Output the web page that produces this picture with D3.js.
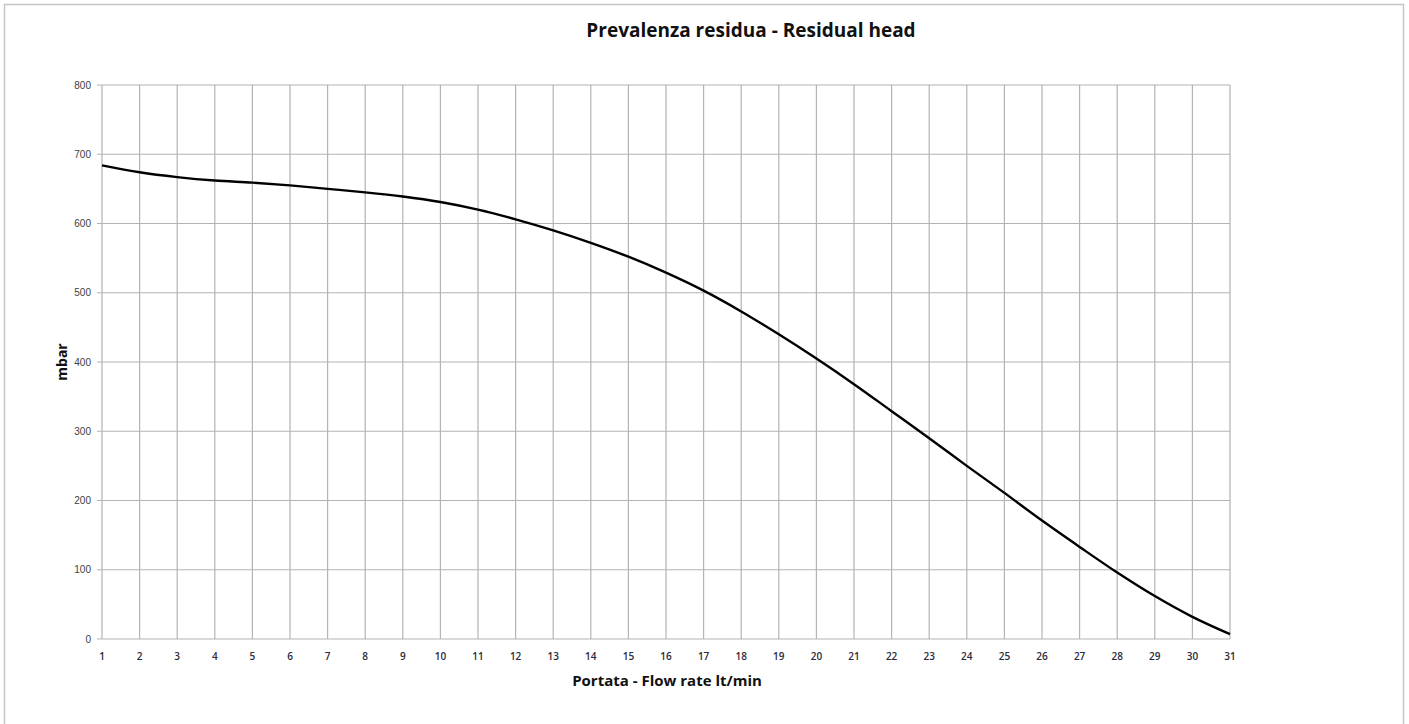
<!DOCTYPE html>
<html><head><meta charset="utf-8">
<script src="https://cdn.jsdelivr.net/npm/d3@7"></script>
<style>html,body{margin:0;padding:0;background:#fff;}svg{display:block;}</style>
</head><body>
<script>
const flowRates = [1,2,3,4,5,6,7,8,9,10,11,12,13,14,15,16,17,18,19,20,21,22,23,24,25,26,27,28,29,30,31];
const residualHead = [684,674,667,662,659,655,650,645,639,631,620,606,590,572,552,529,503,473,440,405,368,329,290,250,211,171,133,96,62,32,7];
const yTicks = [0,100,200,300,400,500,600,700,800];
const xTicks = flowRates;
const titleText = "Prevalenza residua - Residual head";
const xTitle = "Portata - Flow rate lt/min";
const yTitle = "mbar";

const W = 1409, H = 724;
const svg = d3.select("body").append("svg").attr("width", W).attr("height", H);
svg.append("rect").attr("x",4.5).attr("y",4.5).attr("width",1399).attr("height",740)
  .attr("fill","#fff").attr("stroke","#c6c6c6").attr("stroke-width",1.5);

const x = d3.scaleLinear().domain([1,31]).range([102,1230]);
const y = d3.scaleLinear().domain([0,800]).range([639,85]);
const gridColor = "#b3b3b3";

svg.append("g").selectAll("line").data(xTicks).join("line")
  .attr("x1",d=>x(d)).attr("x2",d=>x(d)).attr("y1",y(800)).attr("y2",y(0))
  .attr("stroke",gridColor).attr("stroke-width",1.2);
svg.append("g").selectAll("line").data(yTicks).join("line")
  .attr("x1",97).attr("x2",x(31)).attr("y1",d=>y(d)).attr("y2",d=>y(d))
  .attr("stroke",gridColor).attr("stroke-width",1.2);

svg.append("g").selectAll("text").data(yTicks).join("text")
  .attr("x",91).attr("y",d=>y(d)+3.5).attr("text-anchor","end")
  .attr("font-family","Liberation Sans, Arial, sans-serif").attr("font-size",10)
  .attr("fill","#404040").text(d=>d);
svg.append("g").selectAll("text").data(xTicks).join("text")
  .attr("x",d=>x(d)).attr("y",660).attr("text-anchor","middle")
  .attr("font-family","Open Sans, sans-serif").attr("font-size",10).attr("font-weight",600)
  .attr("fill","#2a2a3a").text(d=>d);

const line = d3.line().x((d,i)=>x(flowRates[i])).y(d=>y(d)).curve(d3.curveCatmullRom.alpha(0.5));
svg.append("path").datum(residualHead).attr("d",line)
  .attr("fill","none").attr("stroke","#000").attr("stroke-width",2.4);

svg.append("text").attr("x",751).attr("y",37).attr("text-anchor","middle")
  .attr("font-family","Open Sans, sans-serif").attr("font-weight","bold").attr("font-size",19)
  .attr("fill","#111").text(titleText);
svg.append("text").attr("x",667).attr("y",686).attr("text-anchor","middle")
  .attr("font-family","Open Sans, sans-serif").attr("font-weight","bold").attr("font-size",15)
  .attr("fill","#111").text(xTitle);
svg.append("text").attr("transform","translate(67,362) rotate(-90)").attr("text-anchor","middle")
  .attr("font-family","Open Sans, sans-serif").attr("font-weight","bold").attr("font-size",14)
  .attr("fill","#111").text(yTitle);
</script>
</body></html>
